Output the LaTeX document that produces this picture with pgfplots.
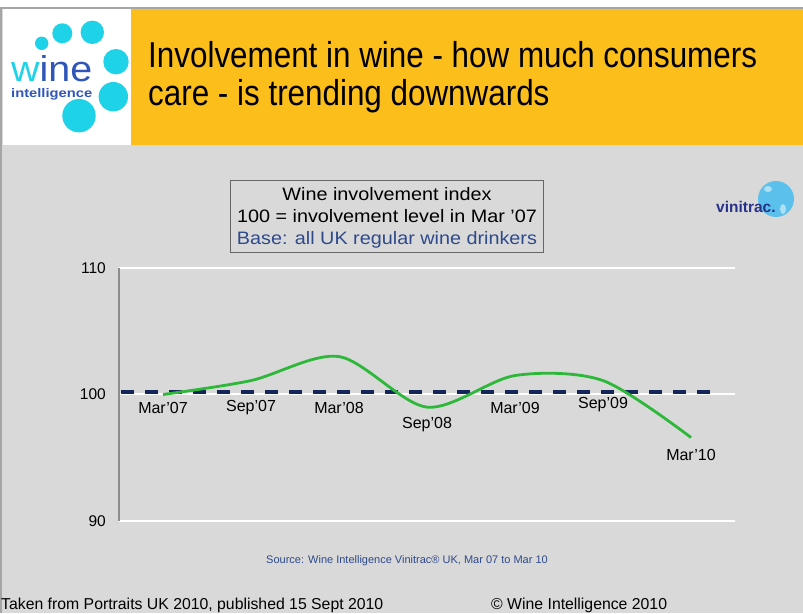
\documentclass[border=0pt]{standalone}
\usepackage{fontspec}
\setmainfont{Liberation Sans}
\usepackage{graphicx}
\usepackage{pgfplots}
\pgfplotsset{compat=1.18}

\definecolor{bggray}{HTML}{D9D9D9}
\definecolor{hdryellow}{HTML}{FBBE1A}
\definecolor{logocyan}{HTML}{1ED2E8}
\definecolor{logoblue}{HTML}{2F56B8}
\definecolor{navy}{HTML}{14255A}
\definecolor{linegreen}{HTML}{2DB83A}
\definecolor{axisgray}{HTML}{8C8C8C}
\definecolor{basetxt}{HTML}{2E4A8B}
\definecolor{vinblue}{HTML}{26318A}
\definecolor{globe}{HTML}{5BC0EB}

\newcommand{\fs}[1]{\fontsize{#1}{#1}\selectfont}

\begin{document}
\begin{tikzpicture}[x=1pt,y=1pt]
% page and background
\fill[bggray] (0,0) rectangle (803,613);
\useasboundingbox (0,0) rectangle (803,613);
\fill[white] (0,605) rectangle (803,613);
\draw[gray!70, line width=2pt] (1,0) -- (1,605) -- (803,605);

% header
\fill[white] (3,468) rectangle (131,604);
\fill[hdryellow] (131,468) rectangle (803,604);
\foreach \cx/\cy/\r in {41.7/569.7/6.7, 62.3/579.7/10, 92.3/580.7/11.7, 116/551.3/12.7, 113.3/516.3/14.7, 79/497.3/16.7}
  \fill[logocyan] (\cx,\cy) circle (\r);
\node[anchor=base west, inner sep=0pt] at (11,531)
  {\resizebox{81pt}{26pt}{\textcolor{logocyan}{w}\textcolor{logoblue}{ine}}};
\node[anchor=base west, inner sep=0pt, text=logoblue] at (11,515)
  {\resizebox{81pt}{9pt}{\fs{12}\bfseries intelligence}};
\node[anchor=base west, inner sep=0pt] at (148,545)
  {\scalebox{0.872}[1]{\fs{36}Involvement in wine - how much consumers}};
\node[anchor=base west, inner sep=0pt] at (148,507)
  {\scalebox{0.872}[1]{\fs{36}care - is trending downwards}};

% title box of the chart
\draw[gray!80!black, line width=0.8pt] (230,361) rectangle (543,433);
\node at (387,419) {\scalebox{1.1}[1]{\fs{18}Wine involvement index}};
\node at (387,397) {\scalebox{1.1}[1]{\fs{18}100 = involvement level in Mar '07}};
\node[text=basetxt] at (387,373) {\scalebox{1.1}[1]{\fs{18}Base: all UK regular wine drinkers}};

% vinitrac mark
\fill[globe] (776,414) ellipse (18 and 18);
\fill[white, opacity=0.5] (768,424) ellipse (4 and 3);
\fill[white, opacity=0.5] (783,404) ellipse (3 and 5);
\node[font=\fs{15.5}\bfseries, text=vinblue, anchor=base west, inner sep=0pt] at (716,400) {vinitrac.};

\begin{axis}[
  at={(119pt,92pt)}, anchor=south west,
  scale only axis, width=616pt, height=253pt,
  xmin=-0.5, xmax=6.5, ymin=90, ymax=110,
  axis x line=none, axis y line*=left,
  y axis line style={color=axisgray, line width=1.5pt},
  ytick={90,100,110}, major tick length=0pt,
  ymajorgrids, grid style={white, line width=2pt},
  yticklabel style={font=\fs{15.5}, inner sep=0pt, xshift=-13pt},
  /pgf/number format/assume math mode=true,
  clip=false,
]
% baseline of the index
\addplot[navy, line width=4.3pt, dash pattern=on 13.5pt off 10.5pt] coordinates {
  (-0.48,100.22) (6.26,100.22)
};
% involvement index
\addplot[linegreen, line width=2.8pt, smooth] coordinates {
  (0,100.0) (1,101.1) (2,103.0) (3,99.0) (4,101.5) (5,101.1) (6,96.6)
};
\begin{scope}[every node/.style={font=\fs{16}, inner sep=0pt}]
\node at (axis cs:0,98.93) {Mar'07};
\node at (axis cs:1,98.93) {Sep'07};
\node at (axis cs:2,98.93) {Mar'08};
\node at (axis cs:3,97.65) {Sep'08};
\node at (axis cs:4,98.93) {Mar'09};
\node at (axis cs:5,99.17) {Sep'09};
\node at (axis cs:6,95.20) {Mar'10};
\end{scope}
\end{axis}

% source and footer
\node[text=basetxt, font=\fs{11}] at (407,52) {Source: Wine Intelligence Vinitrac\textregistered{} UK, Mar 07 to Mar 10};
\node[anchor=base west, inner sep=0pt, font=\fs{15.8}] at (1,4) {Taken from Portraits UK 2010, published 15 Sept 2010};
\node[anchor=base west, inner sep=0pt, font=\fs{15.8}] at (491,4) {\textcopyright{} Wine Intelligence 2010};
\end{tikzpicture}
\end{document}
